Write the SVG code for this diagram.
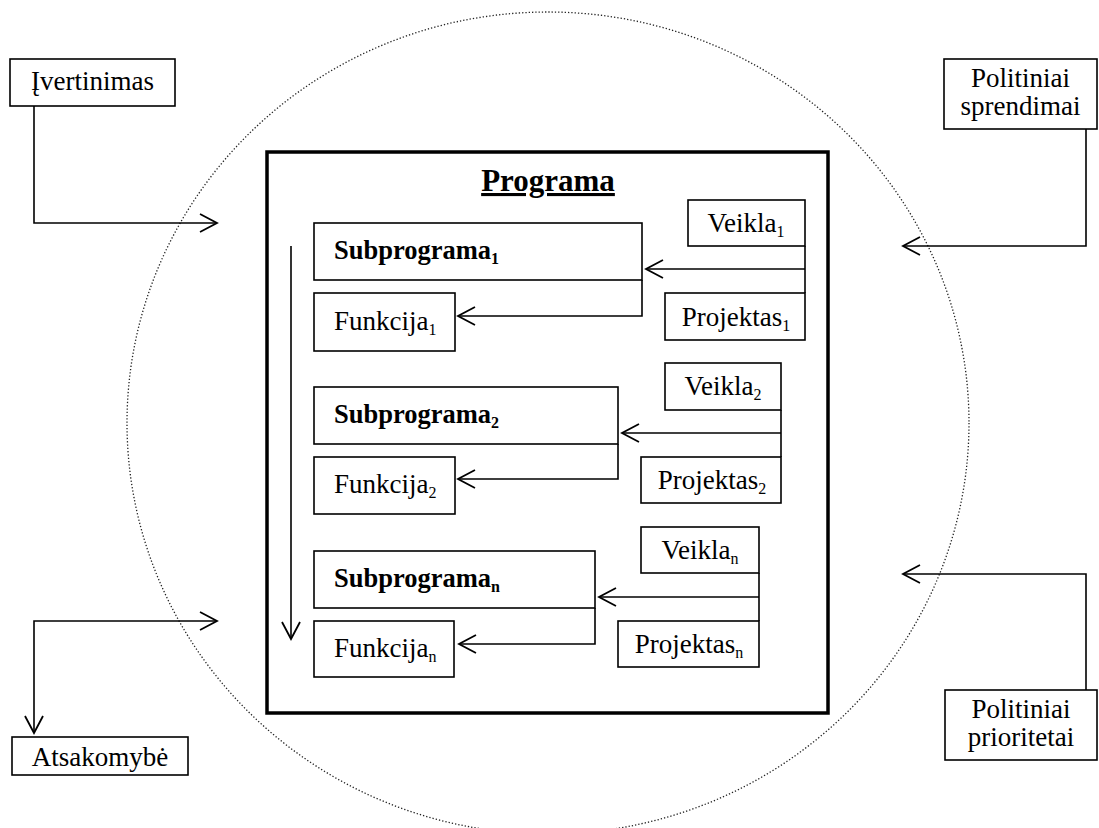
<svg xmlns="http://www.w3.org/2000/svg" width="1099" height="828" viewBox="0 0 1099 828">
<style>
.bx{fill:#fff;stroke:#000;stroke-width:1.6}
.t{font-family:"Liberation Serif","Times New Roman",serif;font-size:27px;fill:#000}
.m{text-anchor:middle}
.b{font-weight:bold;font-size:26.5px}
.sub{font-size:16px}
.c{fill:none;stroke:#000;stroke-width:1.6}
</style>
<defs>
<marker id="ah" markerUnits="userSpaceOnUse" markerWidth="24" markerHeight="24" viewBox="-20 -12 24 24" refX="0" refY="0" orient="auto-start-reverse">
<path d="M-17,-9 L0,0 L-17,9" fill="none" stroke="#000" stroke-width="1.8"/>
</marker>
</defs>
<rect width="1099" height="828" fill="#fff"/>
<ellipse id="circle" cx="548" cy="423" rx="421" ry="411" fill="none" stroke="#222" stroke-width="1.3" stroke-dasharray="1.3 2"/>
<g id="programa">
<rect x="267" y="152" width="561" height="561" fill="none" stroke="#000" stroke-width="3.5"/>
<text class="t m" x="548" y="191" style="font-size:31px;font-weight:bold;text-decoration:underline">Programa</text>
</g>
<g id="subprograma1"><rect class="bx" x="314" y="223" width="328" height="57"/><text class="t b" x="334" y="259">Subprograma<tspan class="sub" dy="5">1</tspan></text></g>
<g id="funkcija1"><rect class="bx" x="314" y="293" width="141" height="58"/><text class="t" x="334" y="330">Funkcija<tspan class="sub" dy="5">1</tspan></text></g>
<g id="veikla1"><rect class="bx" x="688" y="200" width="117" height="46"/><text class="t m" x="746" y="232">Veikla<tspan class="sub" dy="5">1</tspan></text></g>
<g id="projektas1"><rect class="bx" x="665" y="293" width="140" height="47"/><text class="t m" x="736" y="326">Projektas<tspan class="sub" dy="5">1</tspan></text></g>
<g id="subprograma2"><rect class="bx" x="314" y="387" width="304" height="57"/><text class="t b" x="334" y="423">Subprograma<tspan class="sub" dy="5">2</tspan></text></g>
<g id="funkcija2"><rect class="bx" x="314" y="457" width="141" height="57"/><text class="t" x="334" y="493">Funkcija<tspan class="sub" dy="5">2</tspan></text></g>
<g id="veikla2"><rect class="bx" x="665" y="363" width="116" height="47"/><text class="t m" x="723" y="395">Veikla<tspan class="sub" dy="5">2</tspan></text></g>
<g id="projektas2"><rect class="bx" x="641" y="457" width="140" height="46"/><text class="t m" x="712" y="489">Projektas<tspan class="sub" dy="5">2</tspan></text></g>
<g id="subprograman"><rect class="bx" x="314" y="551" width="281" height="57"/><text class="t b" x="334" y="587">Subprograma<tspan class="sub" dy="5">n</tspan></text></g>
<g id="funkcijan"><rect class="bx" x="314" y="621" width="140" height="56"/><text class="t" x="334" y="657">Funkcija<tspan class="sub" dy="5">n</tspan></text></g>
<g id="veiklan"><rect class="bx" x="641" y="527" width="118" height="46"/><text class="t m" x="700" y="559">Veikla<tspan class="sub" dy="5">n</tspan></text></g>
<g id="projektasn"><rect class="bx" x="618" y="621" width="141" height="46"/><text class="t m" x="689" y="653">Projektas<tspan class="sub" dy="5">n</tspan></text></g>
<g id="ivertinimas"><rect class="bx" x="10" y="59" width="165" height="47"/><text class="t m" x="92.5" y="90">Įvertinimas</text></g>
<g id="politiniai-sprendimai"><rect class="bx" x="944" y="59" width="153" height="70"/><text class="t m" x="1020.5" y="87">Politiniai</text><text class="t m" x="1020.5" y="115">sprendimai</text></g>
<g id="atsakomybe"><rect class="bx" x="12" y="737" width="176" height="38"/><text class="t m" x="100" y="766">Atsakomybė</text></g>
<g id="politiniai-prioritetai"><rect class="bx" x="945" y="690" width="152" height="70"/><text class="t m" x="1021" y="718">Politiniai</text><text class="t m" x="1021" y="746">prioritetai</text></g>
<g id="connectors">
<path class="c" d="M805,246 V293"/>
<path class="c" d="M805,269 H646" marker-end="url(#ah)"/>
<path class="c" d="M642,280 V316 H458" marker-end="url(#ah)"/>
<path class="c" d="M781,410 V457"/>
<path class="c" d="M781,433 H622" marker-end="url(#ah)"/>
<path class="c" d="M618,444 V479 H458" marker-end="url(#ah)"/>
<path class="c" d="M759,573 V621"/>
<path class="c" d="M759,597 H599" marker-end="url(#ah)"/>
<path class="c" d="M595,608 V644 H459" marker-end="url(#ah)"/>
<path class="c" d="M291,246 V639" marker-end="url(#ah)"/>
<path class="c" d="M34,106 V223 H217" marker-end="url(#ah)"/>
<path class="c" d="M1086,129 V246 H903" marker-end="url(#ah)"/>
<path class="c" d="M217,621 H34 V733" marker-start="url(#ah)" marker-end="url(#ah)"/>
<path class="c" d="M1086,690 V574 H903" marker-end="url(#ah)"/>
</g>
</svg>
